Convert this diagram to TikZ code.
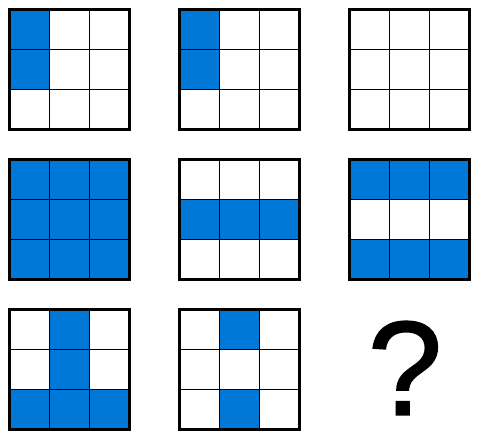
\documentclass[tikz,border=0pt]{standalone}
\usepackage{fontspec}
\setmainfont{Liberation Sans}
\newfontfamily\qfont[FakeBold=1.2]{Liberation Sans}
\definecolor{cellblue}{RGB}{0,120,215}
\tikzset{
  cellfill/.style={fill=cellblue, draw=none},
  innerline/.style={draw=black, line width=1.5pt},
  outerline/.style={draw=black, line width=3.5pt}
}
% #1 x, #2 y (top-left), #3 list of filled cells col/row
\newcommand{\puzzlegrid}[3]{%
  \foreach \c/\r in {#3} {
    \path[cellfill] (#1+40*\c,#2+40*\r) rectangle ++(40,40);
  }
  \foreach \k in {1,2} {
    \draw[innerline] (#1+40*\k,#2) -- ++(0,120);
    \draw[innerline] (#1,#2+40*\k) -- ++(120,0);
  }
  \draw[outerline] (#1,#2) rectangle ++(120,120);
}
\begin{document}
\begin{tikzpicture}[x=1pt,y=-1pt]
\useasboundingbox (0,0) rectangle (490,440);
\puzzlegrid{9.5}{9.5}{0/0,0/1}
\puzzlegrid{179.5}{9.5}{0/0,0/1}
\puzzlegrid{349.5}{9.5}{}
\puzzlegrid{9.5}{159.5}{0/0,1/0,2/0,0/1,1/1,2/1,0/2,1/2,2/2}
\puzzlegrid{179.5}{159.5}{0/1,1/1,2/1}
\puzzlegrid{349.5}{159.5}{0/0,1/0,2/0,0/2,1/2,2/2}
\puzzlegrid{9.5}{309.5}{1/0,1/1,0/2,1/2,2/2}
\puzzlegrid{179.5}{309.5}{1/0,1/2}
\node[font=\qfont\fontsize{134}{134}\selectfont, inner sep=0pt] (qmark) at (405,368) {?};
\end{tikzpicture}
\end{document}
